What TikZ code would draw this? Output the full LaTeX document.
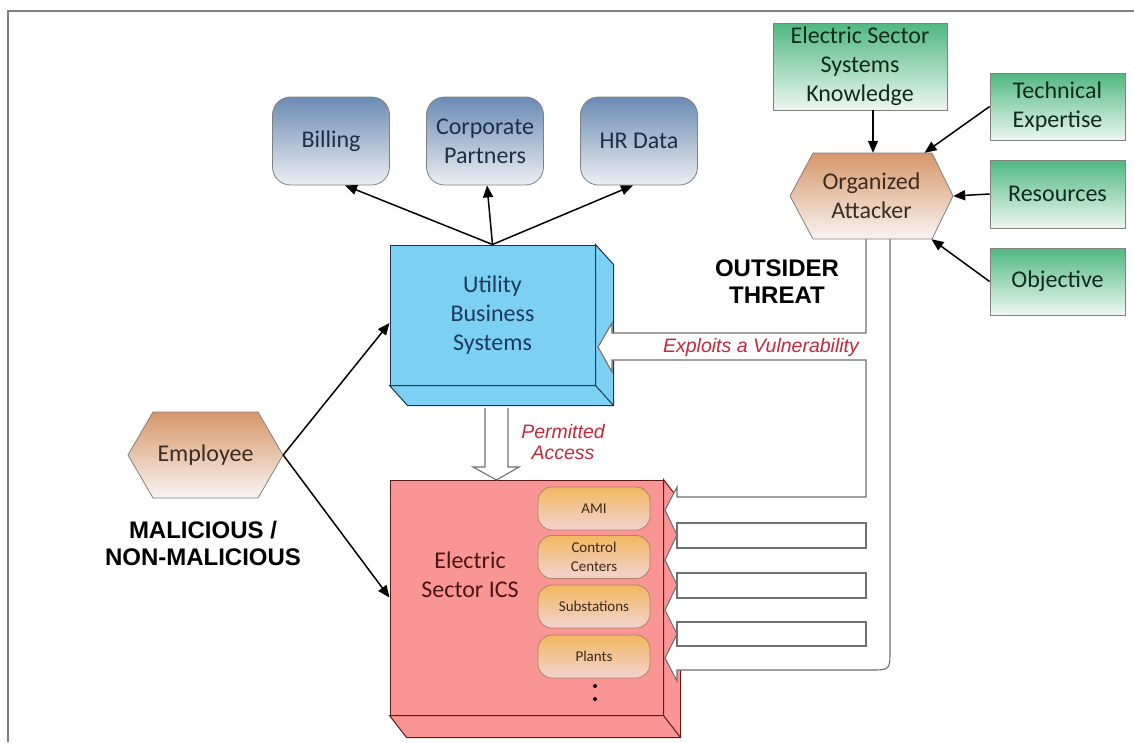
\documentclass[tikz,border=0pt]{standalone}
\usepackage{fontspec}
\setmainfont{Carlito}
\newfontfamily\arialf{Liberation Sans}
\usetikzlibrary{arrows.meta,calc}
\definecolor{ubsfill}{HTML}{7BD0F3}
\definecolor{ubsdraw}{HTML}{1C3450}
\definecolor{ubstext}{HTML}{1C3A5E}
\definecolor{icsfill}{HTML}{FA9595}
\definecolor{icsdraw}{HTML}{5B1A1A}
\definecolor{icstext}{HTML}{4A1515}
\definecolor{billtop}{HTML}{6B8BB3}
\definecolor{billbot}{HTML}{ECEFF3}
\definecolor{billtext}{HTML}{1B2F4A}
\definecolor{greentop}{HTML}{50B880}
\definecolor{greenbot}{HTML}{EEF7F1}
\definecolor{greentext}{HTML}{102A1C}
\definecolor{hextop}{HTML}{D7976A}
\definecolor{hexbot}{HTML}{F8F4F2}
\definecolor{hextext}{HTML}{3C2B22}
\definecolor{pilltop}{HTML}{F2B860}
\definecolor{pillbot}{HTML}{F2D3D3}
\definecolor{pilldraw}{HTML}{B08460}
\definecolor{pilltext}{HTML}{3B2A1A}
\definecolor{labred}{HTML}{C5283D}
\definecolor{hollowgray}{HTML}{707070}
\definecolor{framegray}{HTML}{808080}
\newcommand\dgbig{\fontsize{24}{29}\selectfont}
\newcommand\dgsmall{\fontsize{15}{19}\selectfont}
\begin{document}
\begin{tikzpicture}[x=1pt,y=-1pt,
  box/.style={inner sep=0pt,align=center,font=\dgbig},
  bluebox/.style={box,draw=framegray,line width=0.8pt,rounded corners=18pt,
    top color=billtop,bottom color=billbot,text=billtext,
    minimum width=117pt,minimum height=88pt},
  greenbox/.style={box,draw=framegray,line width=0.8pt,
    top color=greentop,bottom color=greenbot,text=greentext},
  pill/.style={box,font=\dgsmall,draw=pilldraw,line width=0.8pt,rounded corners=14pt,
    top color=pilltop,bottom color=pillbot,text=pilltext,
    minimum width=112pt,minimum height=43pt},
  hexshade/.style={draw=framegray,line width=0.8pt,top color=hextop,bottom color=hexbot},
  hexnode/.style={box,text=hextext,minimum height=86pt},
  arr/.style={-{Triangle[length=12pt,width=10pt]},line width=1.5pt,black},
  hollow/.style={draw=hollowgray,line width=1.1pt,fill=white},
  bigbold/.style={font=\arialf\bfseries\fontsize{24}{27}\selectfont,align=center},
  redlab/.style={font=\arialf\itshape\fontsize{19.5}{21}\selectfont,text=labred,align=center}
]
\useasboundingbox (0,0) rectangle (1134,742);
\draw[framegray,line width=2pt] (8,742) -- (8,11) -- (1134,11);

% Utility Business Systems (3D box)
\node[box,draw=ubsdraw,line width=1pt,fill=ubsfill,text=ubstext,
  minimum width=205pt,minimum height=140pt] (ubs) at (492.5,315) {Utility\\Business\\Systems};
\draw[ubsdraw,line width=1pt,fill=ubsfill] (ubs.north east) -- ++(18,20)
  -- ($(ubs.south east)+(18,20)$) -- ($(ubs.south west)+(18,20)$)
  -- (ubs.south west) -- (ubs.south east) -- cycle;
\draw[ubsdraw,line width=1pt] (ubs.south east) -- ++(18,20);

% Electric Sector ICS (3D box)
\node[box,draw=icsdraw,line width=1pt,fill=icsfill,
  minimum width=273pt,minimum height=235pt] (ics) at (526.5,597.5) {};
\draw[icsdraw,line width=1pt,fill=icsfill] (ics.north east) -- ++(17,22)
  -- ($(ics.south east)+(17,22)$) -- ($(ics.south west)+(17,22)$)
  -- (ics.south west) -- (ics.south east) -- cycle;
\draw[icsdraw,line width=1pt] (ics.south east) -- ++(17,22);
\node[box,text=icstext] (icslabel) at (470,575) {Electric\\Sector ICS};

% Hollow branching arrow from the attacker
\draw[hollow] (866,239) -- (866,333) -- (612,333) -- (612,323) -- (598,347)
  -- (612,372) -- (612,360) -- (866,360) -- (866,497) -- (677,497) -- (677,487)
  -- (665,510) -- (677,535) -- (665,560) -- (677,585) -- (665,610) -- (677,634)
  -- (665,658) -- (677,681) -- (677,670) -- (870,670)
  .. controls (890,670) .. (890,650) -- (890,239);
\draw[hollow] (677,523) rectangle (866,548);
\draw[hollow] (677,573) rectangle (866,598);
\draw[hollow] (677,622) rectangle (866,646);
\node[redlab] (exploit) at (761,347) {Exploits a Vulnerability};

% Permitted access arrow
\draw[hollow] (485,408) -- (485,467) -- (473,467) -- (496.5,480) -- (519,467)
  -- (508,467) -- (508,408);
\node[redlab] (permit) at (563,442.5) {Permitted\\Access};

% ICS parts
\node[pill] (ami) at (594,508.5) {AMI};
\node[pill] (cc) at (594,557) {Control\\Centers};
\node[pill] (sub) at (594,606.5) {Substations};
\node[pill] (plants) at (594,656.5) {Plants};
\fill (595,686) circle (2pt);
\fill (595,699) circle (2pt);

% Business data boxes
\node[bluebox] (billing) at (331,141) {Billing};
\node[bluebox] (corp) at (485,141) {Corporate\\Partners};
\node[bluebox] (hr) at (639,141) {HR Data};
\draw[arr] (ubs.north) -- ([xshift=14pt]billing.south);
\draw[arr] (ubs.north) -- ([xshift=2pt]corp.south);
\draw[arr] (ubs.north) -- ([xshift=-6pt]hr.south);

% Employee
\shade[hexshade] (128,455) -- (153,412) -- (258,412) -- (283,455) -- (258,498)
  -- (153,498) -- cycle;
\node[hexnode,minimum width=155pt] (emp) at (205.5,455) {Employee};
\node[bigbold] (mal) at (203,543.5) {MALICIOUS /\\NON-MALICIOUS};
\draw[arr] (emp.east) -- ([yshift=-8pt]ubs.west);
\draw[arr] (emp.east) -- (ics.west);

% Organized attacker
\shade[hexshade] (790,196) -- (813,153) -- (932,153) -- (953,196) -- (932,239)
  -- (813,239) -- cycle;
\node[hexnode,minimum width=163pt] (att) at (871.5,196) {Organized\\Attacker};
\node[bigbold] (outsider) at (777,281.5) {OUTSIDER\\THREAT};

% Attacker inputs
\node[greenbox,minimum width=174pt,minimum height=87pt] (know) at (860,66.5)
  {Electric Sector\\Systems\\Knowledge};
\node[greenbox,minimum width=135pt,minimum height=67pt] (tech) at (1057.5,106.5)
  {Technical\\Expertise};
\node[greenbox,minimum width=135pt,minimum height=68pt] (res) at (1057.5,194)
  {Resources};
\node[greenbox,minimum width=135pt,minimum height=67pt] (obj) at (1057.5,281.5)
  {Objective};
\draw[arr] ([xshift=13pt]know.south) -- ([xshift=13pt]know.south |- att.north);
\draw[arr] (tech.west) -- ($(att.north)+(53,0)$);
\draw[arr] (res.west) -- (att.east);
\draw[arr] (obj.west) -- ($(att.south)+(60,0)$);
\end{tikzpicture}
\end{document}
